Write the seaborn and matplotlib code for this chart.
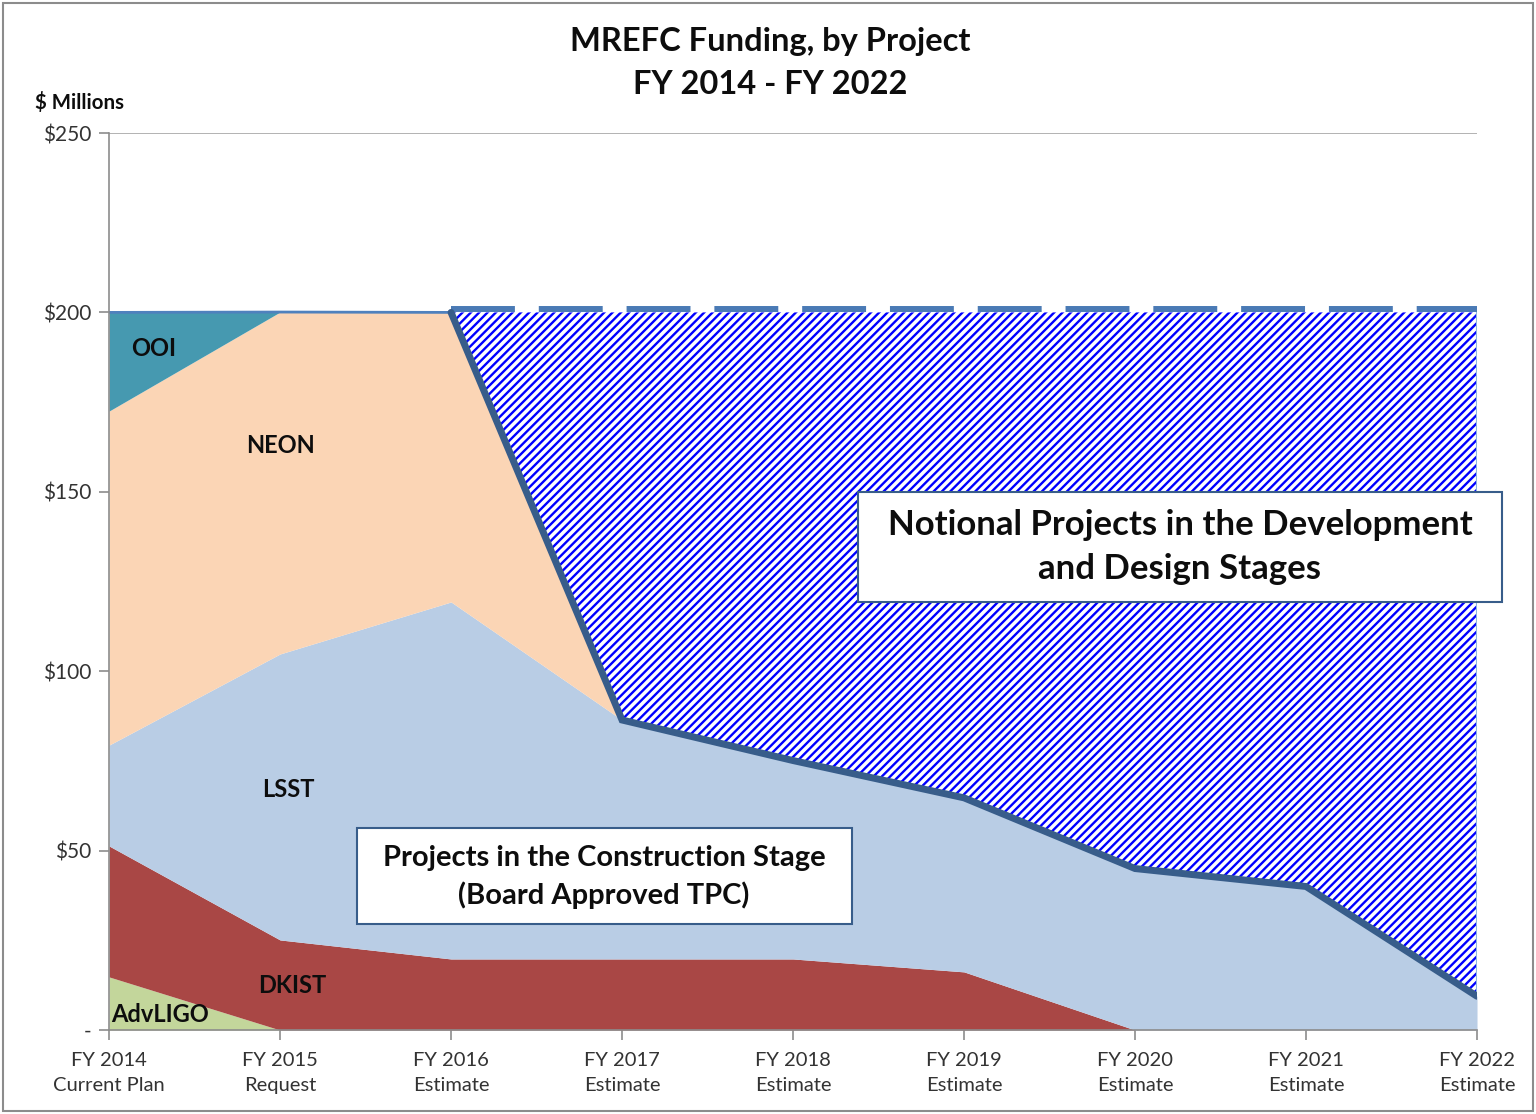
import numpy as np
import matplotlib
matplotlib.use("Agg")
import matplotlib.pyplot as plt
import matplotlib.transforms as mtransforms
from matplotlib.patches import Rectangle
import seaborn as sns


# Chart data ($ millions)
years = ["FY 2014\nCurrent Plan", "FY 2015\nRequest", "FY 2016\nEstimate",
         "FY 2017\nEstimate", "FY 2018\nEstimate", "FY 2019\nEstimate",
         "FY 2020\nEstimate", "FY 2021\nEstimate", "FY 2022\nEstimate"]
advligo = [14.8, 0, 0, 0, 0, 0, 0, 0, 0]
dkist = [36.5, 25.1, 19.8, 19.8, 19.8, 16.2, 0, 0, 0]
lsst = [28.1, 79.7, 99.5, 66.6, 55.3, 48.5, 45.0, 40.0, 9.4]
neon = [93.1, 95.3, 80.7, 0, 0, 0, 0, 0, 0]
ooi = [27.5, 0, 0, 0, 0, 0, 0, 0, 0]
notional = [0, 0, 0, 113.6, 124.9, 135.3, 155.0, 160.0, 190.6]
labels = ["AdvLIGO", "DKIST", "LSST", "NEON", "OOI"]
yticks = [0, 50, 100, 150, 200, 250]
ytick_labels = ["-", "$50", "$100", "$150", "$200", "$250"]

colors = ["#c3d69b", "#a94745", "#b9cde5", "#fbd5b5", "#4699b0"]
line_col = "#385d8a"

sns.set_style("white")
plt.rcParams["font.family"] = ["Lato", "DejaVu Sans"]
plt.rcParams["hatch.linewidth"] = 1.7

W, H = 1536, 1114
fig = plt.figure(figsize=(W / 100, H / 100), dpi=100)
ax = fig.add_axes([0.071, 0.0754, 0.8906, 0.8052])

x = np.arange(len(years))
stack = np.vstack([advligo, dkist, lsst, neon, ooi])
total = stack.sum(axis=0)
top = total + np.array(notional)

ax.stackplot(x, stack, colors=colors, linewidth=0)

# notional projects, hatched on top of the construction stack
ax.fill_between(x[2:], total[2:], top[2:], facecolor="white", edgecolor="#0000ff",
                hatch="////", linewidth=0)
# faint right edge of the notional block
ax.plot([x[-1], x[-1]], [total[-1], top[-1]], color="#8eb4e3", linewidth=1.5)

# thin line along the overall top
sns.lineplot(x=x[:3], y=top[:3], ax=ax, color="#4f81bd", linewidth=2)

# dashed cap across the notional block
up = mtransforms.ScaledTranslation(0, 3 / 100, fig.dpi_scale_trans)
sns.lineplot(x=x[2:], y=top[2:], ax=ax, color="#4a7ab5", linewidth=4.3,
             linestyle=(0, (10.7, 4.0)), transform=ax.transData + up)
ax.lines[-1].set_dash_capstyle("butt")

# boundary between construction and notional
sns.lineplot(x=x[2:], y=total[2:], ax=ax, color=line_col, linewidth=5)
ax.lines[-1].set_solid_joinstyle("miter")

ax.set_xlim(0, 8)
ax.set_ylim(0, 250)
ax.set_xticks(x)
ax.set_xticklabels(years, fontsize=14.5, color="#333333", linespacing=1.55)
ax.set_yticks(yticks)
ax.set_yticklabels(ytick_labels, fontsize=15, color="#333333")
ax.tick_params(axis="both", direction="out", length=7, color="#8c8c8c", width=1.2,
               bottom=True, left=True)
ax.tick_params(axis="x", pad=9)
ax.tick_params(axis="y", pad=6)
ax.set_xlabel("")
ax.set_ylabel("")
ax.axhline(250, color="#a6a6a6", linewidth=1.2, zorder=0)
for side in ["top", "right"]:
    ax.spines[side].set_visible(False)
for side in ["left", "bottom"]:
    ax.spines[side].set_color("#8c8c8c")
    ax.spines[side].set_linewidth(1.2)

# series labels
lab_pos = {"OOI": (0.26, 190), "NEON": (1.0, 163), "LSST": (1.05, 67),
           "DKIST": (1.07, 12.5), "AdvLIGO": (0.30, 4.2)}
for name in labels:
    px, py = lab_pos[name]
    ax.text(px, py, name, fontsize=17, fontweight="bold", ha="center", va="center",
            color="#0d0d0d")


def fbox(x0, y0, x1, y1):
    # box in reference pixel coordinates
    fig.patches.append(Rectangle((x0 / W, 1 - y1 / H), (x1 - x0) / W, (y1 - y0) / H,
                                 transform=fig.transFigure, facecolor="white",
                                 edgecolor=line_col, linewidth=1.5, zorder=5))


fbox(858, 492, 1502, 602)
fbox(357, 828, 852, 924)
fig.text(1180 / W, 1 - 547 / H, "Notional Projects in the Development\nand Design Stages",
         fontsize=25, fontweight="bold", ha="center", va="center", linespacing=1.45,
         color="#0d0d0d", zorder=6)
fig.text(604 / W, 1 - 877 / H, "Projects in the Construction Stage\n(Board Approved TPC)",
         fontsize=21, fontweight="bold", ha="center", va="center", linespacing=1.45,
         color="#0d0d0d", zorder=6)

fig.text(770 / W, 1 - 42 / H, "MREFC Funding, by Project", fontsize=23.5,
         fontweight="bold", ha="center", va="center", color="#0d0d0d")
fig.text(770 / W, 1 - 84 / H, "FY 2014 - FY 2022", fontsize=23.5,
         fontweight="bold", ha="center", va="center", color="#0d0d0d")
fig.text(35 / W, 1 - 103 / H, "$ Millions", fontsize=14.8,
         fontweight="bold", ha="left", va="center", color="#0d0d0d")

fig.patches.append(Rectangle((0.002, 0.003), 0.996, 0.994, transform=fig.transFigure,
                             fill=False, edgecolor="#8c8c8c", linewidth=1.5))

fig.savefig("out.png", dpi=100, facecolor="white")
